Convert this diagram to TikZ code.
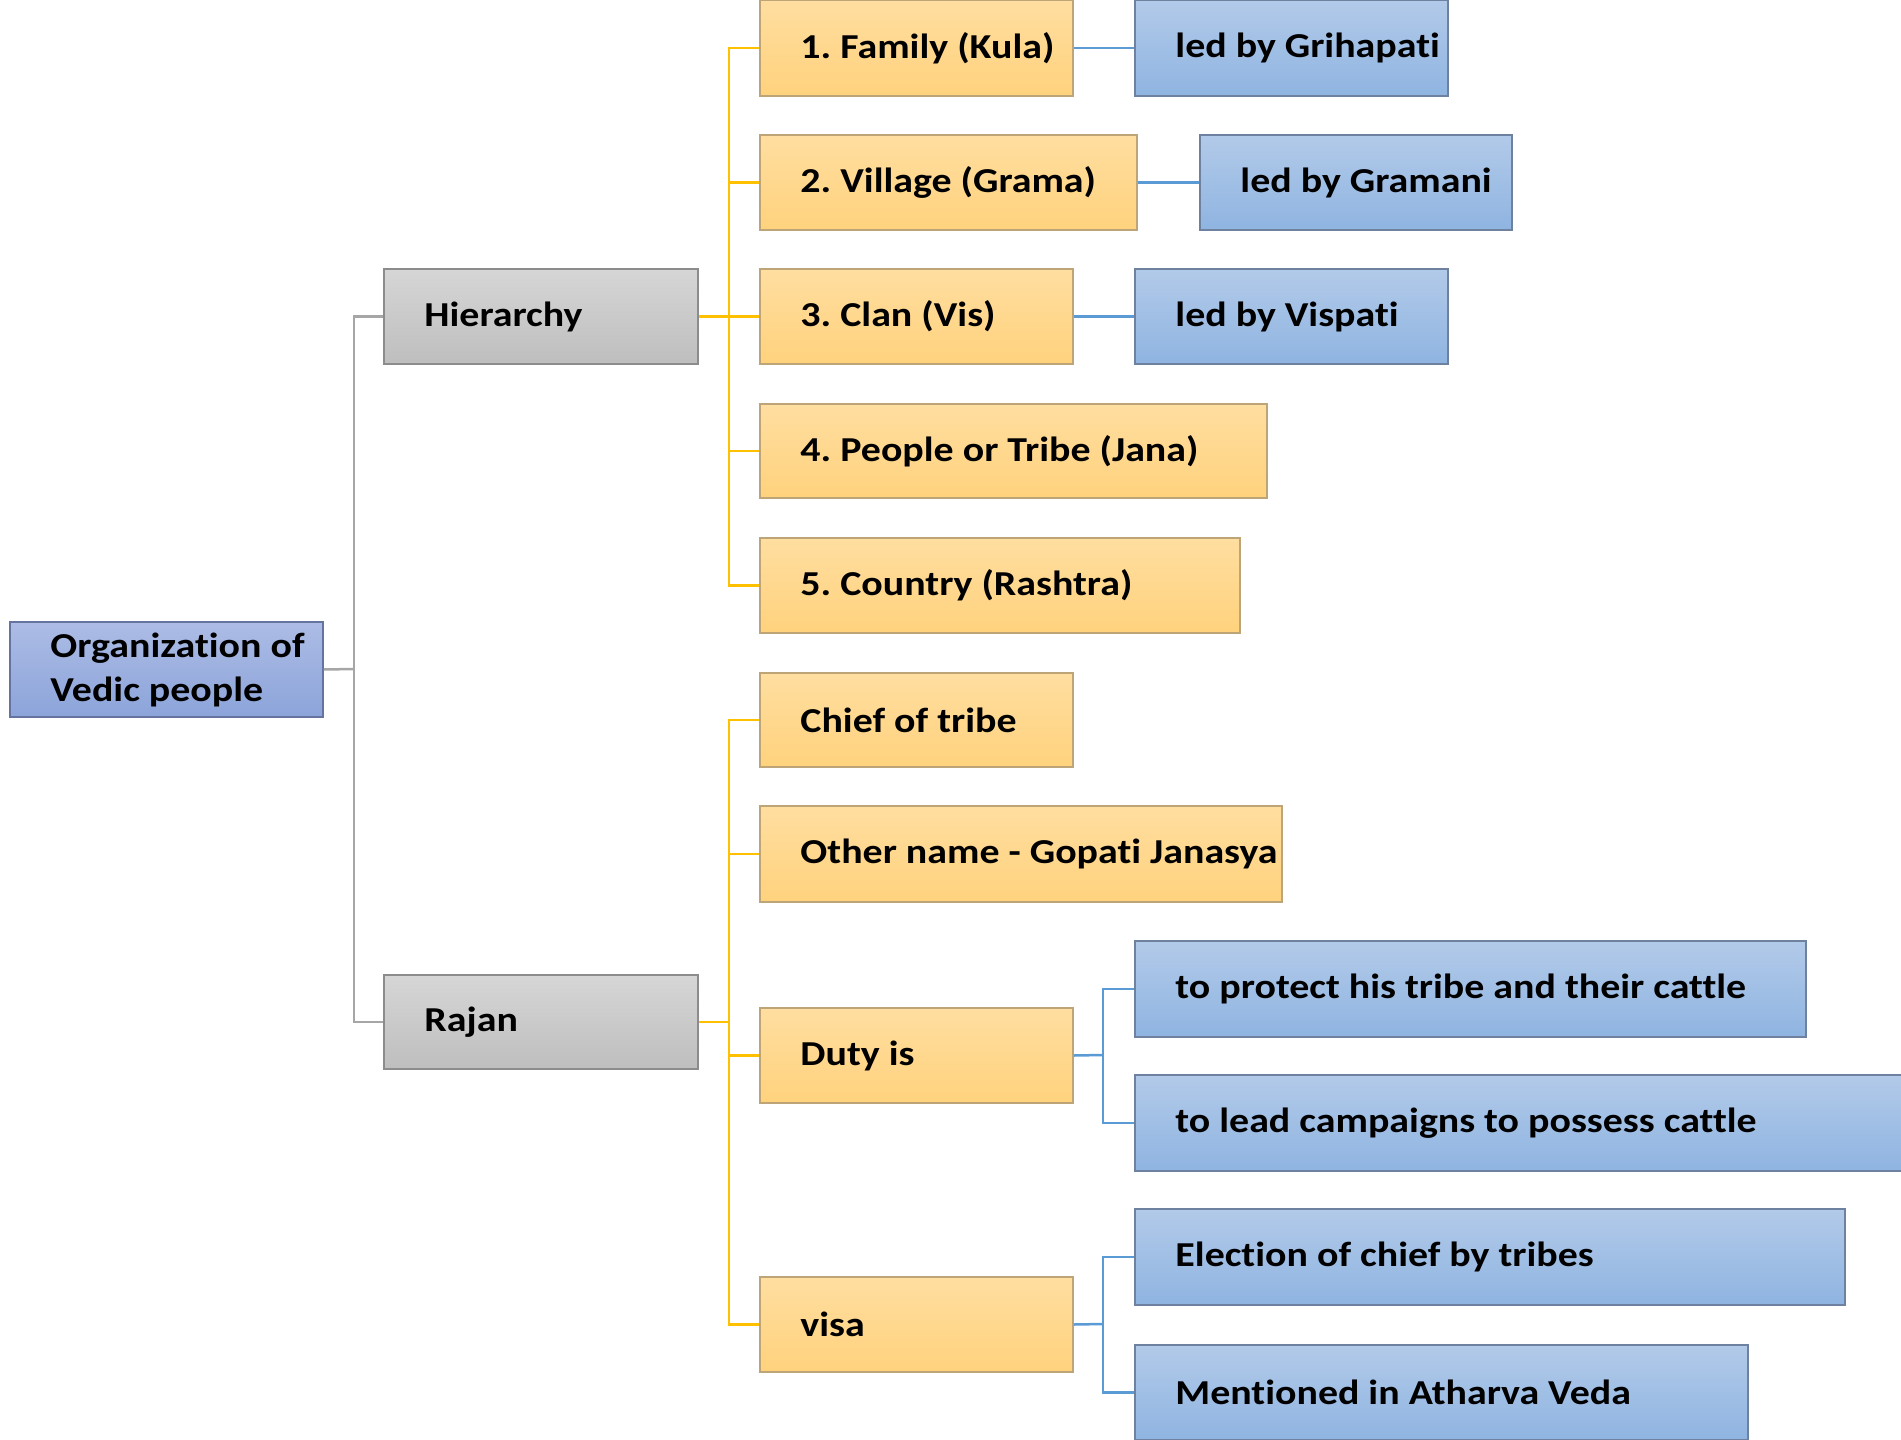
\documentclass[tikz,border=0pt]{standalone}
\usepackage{fontspec}
\setmainfont{Carlito}[FakeStretch=1.14, Ligatures=NoCommon]
\frenchspacing
\definecolor{otop}{RGB}{255,222,160}
\definecolor{obot}{RGB}{255,210,125}
\definecolor{btop}{RGB}{178,202,233}
\definecolor{bbot}{RGB}{143,180,225}
\definecolor{gtop}{RGB}{214,214,214}
\definecolor{gbot}{RGB}{190,190,190}
\definecolor{rtop}{RGB}{172,188,229}
\definecolor{rbot}{RGB}{140,164,218}
\definecolor{oln}{RGB}{255,192,0}
\definecolor{bln}{RGB}{91,155,213}
\definecolor{gln}{RGB}{166,166,166}
\tikzset{
  boxbase/.style={rectangle, inner sep=0pt, line width=1.5pt},
  obox/.style={boxbase, top color=otop, bottom color=obot, draw={rgb,255:red,190;green,165;blue,120}},
  bbox/.style={boxbase, top color=btop, bottom color=bbot, draw={rgb,255:red,110;green,130;blue,160}},
  gbox/.style={boxbase, top color=gtop, bottom color=gbot, draw={rgb,255:red,140;green,140;blue,140}},
  rbox/.style={boxbase, top color=rtop, bottom color=rbot, draw={rgb,255:red,100;green,115;blue,160}},
  lbl/.style={anchor=west, inner sep=0pt, font=\fontsize{35}{44}\selectfont\bfseries\frenchspacing, align=left},
  oline/.style={draw=oln, line width=2.5pt},
  bline/.style={draw=bln, line width=2.5pt},
  gline/.style={draw=gln, line width=2.5pt},
}
% #1 style, #2 name, #3 x1, #4 y1, #5 x2, #6 y2, #7 text
\newcommand\mkbox[7]{%
  \pgfmathsetmacro\bw{#5-#3}\pgfmathsetmacro\bh{#6-#4}%
  \pgfmathsetmacro\cx{(#3+#5)/2}\pgfmathsetmacro\cy{(#4+#6)/2}%
  \node[#1, minimum width=\bw pt, minimum height=\bh pt] (#2) at (\cx,\cy) {};
  \node[lbl] (#2-t) at ([xshift=41pt]#2.west) {#7};
}
\begin{document}
\begin{tikzpicture}[x=1pt,y=-1pt]
\useasboundingbox (0,0) rectangle (1901,1440);
\begin{scope}
\clip (0,0) rectangle (1901,1440);
\coordinate (gj) at (354,669);
\coordinate (oj1) at (729,316);
\coordinate (oj2) at (729,1022);
\coordinate (bj1) at (1103,1055);
\coordinate (bj2) at (1103,1324);

\mkbox{rbox}{root}{10}{622}{323}{717}{Organization of\\Vedic people}
\mkbox{gbox}{hier}{384}{269}{698}{364}{Hierarchy}
\mkbox{gbox}{rajan}{384}{975}{698}{1069}{Rajan}

\mkbox{obox}{f1}{760}{0}{1073}{96}{1. Family (Kula)}
\mkbox{obox}{f2}{760}{135}{1137}{230}{2. Village (Grama)}
\mkbox{obox}{f3}{760}{269}{1073}{364}{3. Clan (Vis)}
\mkbox{obox}{f4}{760}{404}{1267}{498}{4. People or Tribe (Jana)}
\mkbox{obox}{f5}{760}{538}{1240}{633}{5. Country (Rashtra)}
\mkbox{obox}{r1}{760}{673}{1073}{767}{Chief of tribe}
\mkbox{obox}{r2}{760}{806}{1282}{902}{Other name - Gopati Janasya}
\mkbox{obox}{r3}{760}{1008}{1073}{1103}{Duty is}
\mkbox{obox}{r4}{760}{1277}{1073}{1372}{visa}

\mkbox{bbox}{b1}{1135}{0}{1448}{96}{led by Grihapati}
\mkbox{bbox}{b2}{1200}{135}{1512}{230}{led by Gramani}
\mkbox{bbox}{b3}{1135}{269}{1448}{364}{led by Vispati}
\mkbox{bbox}{d1}{1135}{941}{1806}{1037}{to protect his tribe and their cattle}
\mkbox{bbox}{d2}{1135}{1075}{1930}{1171}{to lead campaigns to possess cattle}
\mkbox{bbox}{v1}{1135}{1209}{1845}{1305}{Election of chief by tribes}
\mkbox{bbox}{v2}{1135}{1345}{1748}{1440}{Mentioned in Atharva Veda}

% gray
\draw[gline] (root.east) -- (gj);
\draw[gline] (hier.west) -| (gj) |- (rajan.west);
% orange hierarchy
\draw[oline] (hier.east) -- (f3.west);
\draw[oline] (f1.west) -| (oj1) |- (f5.west);
\draw[oline] (f2.west) -- (f2.west -| oj1);
\draw[oline] (f4.west) -- (f4.west -| oj1);
% orange rajan
\draw[oline] (rajan.east) -- (oj2);
\draw[oline] (r1.west) -| (oj2) |- (r4.west);
\draw[oline] (r2.west) -- (r2.west -| oj2);
\draw[oline] (r3.west) -- (r3.west -| oj2);
% blue
\draw[bline] (f1.east) -- (b1.west);
\draw[bline] (f2.east) -- (b2.west);
\draw[bline] (f3.east) -- (b3.west);
\draw[bline] (r3.east) -- (bj1);
\draw[bline] (d1.west) -| (bj1) |- (d2.west);
\draw[bline] (r4.east) -- (bj2);
\draw[bline] (v1.west) -| (bj2) |- (v2.west);
\end{scope}
\end{tikzpicture}
\end{document}
